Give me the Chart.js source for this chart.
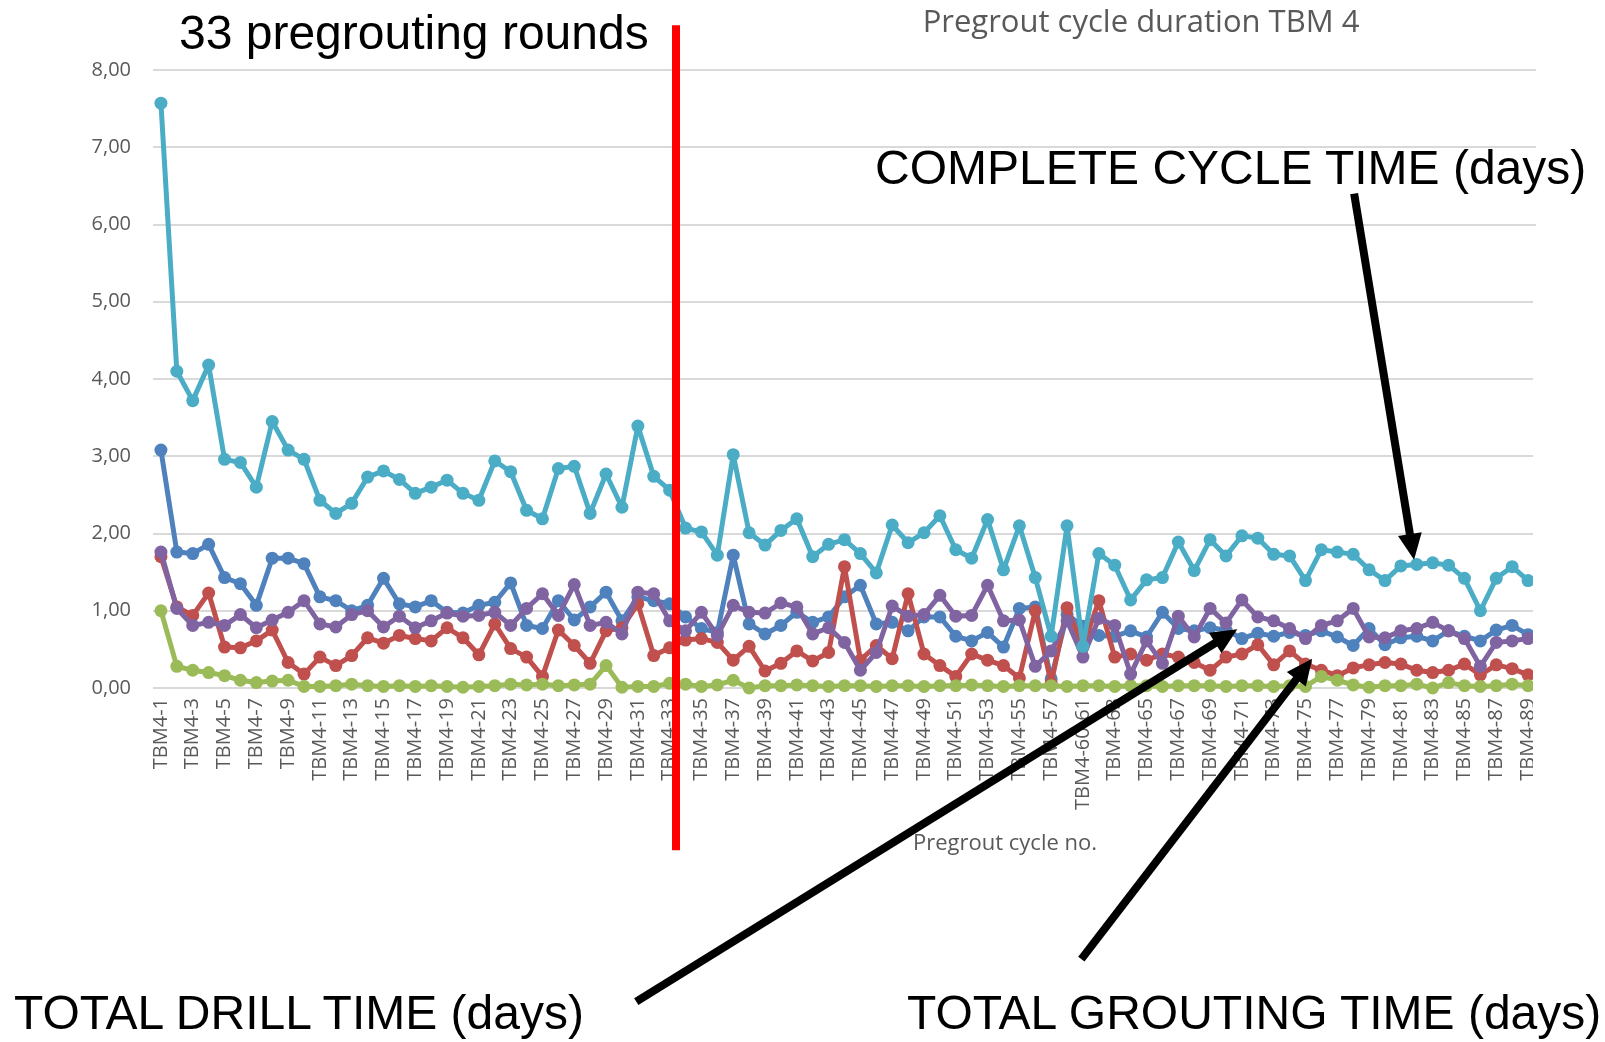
<!DOCTYPE html>
<html>
<head>
<meta charset="utf-8">
<title>Pregrout cycle duration TBM 4</title>
<script src="https://cdn.jsdelivr.net/npm/chart.js@4.4.1/dist/chart.umd.min.js"></script>
<style>
  body { margin: 0; background: #fff; }
  #quadro { position: relative; width: 1605px; height: 1042px; overflow: hidden; background: #fff; }
  #grafico { position: absolute; left: 0; top: 0; }
  .nota { position: absolute; font-family: "Liberation Sans", Arial, sans-serif; color: #000; white-space: nowrap; line-height: 1; font-size: 48px; }
  .cinza { position: absolute; font-family: "Open Sans", sans-serif; color: #595959; white-space: nowrap; line-height: 1; transform: translateX(-50%); }
</style>
</head>
<body>
<div id="quadro">
  <canvas id="grafico" width="1605" height="1042"></canvas>
  <div id="corte" style="position:absolute; left:1533px; top:300px; width:72px; height:530px; background:#fff;"></div>
  <div class="cinza" style="left:1141px; top:5px; font-size:31px;">Pregrout cycle duration TBM 4</div>
  <div class="cinza" style="left:1005px; top:830px; font-size:22px;">Pregrout cycle no.</div>
  <div class="nota" style="left:179px; top:9px;">33 pregrouting rounds</div>
  <div class="nota" style="left:875px; top:144px;">COMPLETE CYCLE TIME (days)</div>
  <div class="nota" style="left:14px; top:989px;">TOTAL DRILL TIME (days)</div>
  <div class="nota" style="left:907px; top:989px;">TOTAL GROUTING TIME (days)</div>
</div>
<script>
// categorias (TBM4-59 nao aparece, 60 e 61 juntos)
const ciclos = [
  'TBM4-1','TBM4-2','TBM4-3','TBM4-4','TBM4-5','TBM4-6','TBM4-7','TBM4-8','TBM4-9','TBM4-10',
  'TBM4-11','TBM4-12','TBM4-13','TBM4-14','TBM4-15','TBM4-16','TBM4-17','TBM4-18','TBM4-19','TBM4-20',
  'TBM4-21','TBM4-22','TBM4-23','TBM4-24','TBM4-25','TBM4-26','TBM4-27','TBM4-28','TBM4-29','TBM4-30',
  'TBM4-31','TBM4-32','TBM4-33','TBM4-34','TBM4-35','TBM4-36','TBM4-37','TBM4-38','TBM4-39','TBM4-40',
  'TBM4-41','TBM4-42','TBM4-43','TBM4-44','TBM4-45','TBM4-46','TBM4-47','TBM4-48','TBM4-49','TBM4-50',
  'TBM4-51','TBM4-52','TBM4-53','TBM4-54','TBM4-55','TBM4-56','TBM4-57','TBM4-58','TBM4-60-61','TBM4-62',
  'TBM4-63','TBM4-64','TBM4-65','TBM4-66','TBM4-67','TBM4-68','TBM4-69','TBM4-70','TBM4-71','TBM4-72',
  'TBM4-73','TBM4-74','TBM4-75','TBM4-76','TBM4-77','TBM4-78','TBM4-79','TBM4-80','TBM4-81','TBM4-82',
  'TBM4-83','TBM4-84','TBM4-85','TBM4-86','TBM4-87','TBM4-88','TBM4-89'
];

const cicloCompleto = [
  7.57, 4.10, 3.72, 4.18, 2.96, 2.92, 2.60, 3.45, 3.08, 2.96, 2.43,
  2.26, 2.39, 2.73, 2.81, 2.70, 2.52, 2.60, 2.69, 2.52, 2.43, 2.94,
  2.80, 2.30, 2.19, 2.84, 2.87, 2.26, 2.77, 2.34, 3.39, 2.74, 2.56,
  2.07, 2.02, 1.72, 3.02, 2.01, 1.85, 2.04, 2.19, 1.70, 1.86, 1.92,
  1.74, 1.49, 2.11, 1.88, 2.01, 2.23, 1.79, 1.68, 2.18, 1.53, 2.10,
  1.43, 0.67, 2.10, 0.54, 1.74, 1.59, 1.14, 1.40, 1.43, 1.89, 1.52,
  1.92, 1.71, 1.97, 1.94, 1.73, 1.71, 1.39, 1.79, 1.76, 1.73, 1.53,
  1.39, 1.58, 1.60, 1.62, 1.59, 1.42, 1.00, 1.42, 1.57, 1.39
];

const serieAzul = [
  3.08, 1.76, 1.74, 1.86, 1.43, 1.35, 1.07, 1.68, 1.68, 1.61, 1.18,
  1.13, 1.00, 1.07, 1.42, 1.09, 1.05, 1.13, 0.98, 0.97, 1.07, 1.11,
  1.36, 0.81, 0.77, 1.13, 0.88, 1.05, 1.24, 0.87, 1.18, 1.13, 1.09,
  0.92, 0.77, 0.72, 1.72, 0.83, 0.70, 0.81, 0.98, 0.85, 0.92, 1.18,
  1.33, 0.83, 0.85, 0.74, 0.92, 0.92, 0.67, 0.61, 0.72, 0.53, 1.03,
  1.05, 0.12, 0.95, 0.80, 0.68, 0.67, 0.74, 0.66, 0.98, 0.77, 0.74,
  0.78, 0.75, 0.64, 0.71, 0.67, 0.72, 0.68, 0.74, 0.66, 0.55, 0.77,
  0.56, 0.65, 0.67, 0.61, 0.74, 0.67, 0.61, 0.75, 0.81, 0.69
];

const tempoFuracao = [
  1.76, 1.03, 0.81, 0.85, 0.81, 0.95, 0.78, 0.88, 0.98, 1.13, 0.83,
  0.79, 0.95, 1.00, 0.79, 0.93, 0.78, 0.87, 0.97, 0.93, 0.94, 0.98,
  0.81, 1.03, 1.22, 0.94, 1.34, 0.81, 0.85, 0.70, 1.24, 1.22, 0.87,
  0.74, 0.98, 0.68, 1.07, 0.98, 0.97, 1.10, 1.05, 0.70, 0.78, 0.59,
  0.23, 0.46, 1.06, 0.93, 0.95, 1.20, 0.93, 0.94, 1.33, 0.87, 0.88,
  0.28, 0.48, 0.87, 0.40, 0.90, 0.81, 0.18, 0.61, 0.32, 0.93, 0.66,
  1.03, 0.84, 1.14, 0.92, 0.87, 0.77, 0.64, 0.81, 0.87, 1.03, 0.66,
  0.65, 0.74, 0.77, 0.85, 0.74, 0.64, 0.28, 0.59, 0.61, 0.64
];

const tempoInjecao = [
  1.70, 1.05, 0.94, 1.23, 0.53, 0.52, 0.61, 0.75, 0.33, 0.18, 0.40,
  0.29, 0.42, 0.65, 0.58, 0.68, 0.64, 0.61, 0.78, 0.65, 0.43, 0.83,
  0.51, 0.40, 0.15, 0.75, 0.55, 0.32, 0.74, 0.78, 1.09, 0.42, 0.52,
  0.62, 0.64, 0.59, 0.36, 0.54, 0.22, 0.32, 0.48, 0.35, 0.46, 1.57,
  0.36, 0.55, 0.38, 1.22, 0.44, 0.29, 0.15, 0.44, 0.36, 0.29, 0.13,
  1.00, 0.06, 1.04, 0.53, 1.13, 0.40, 0.44, 0.36, 0.44, 0.40, 0.33,
  0.23, 0.40, 0.44, 0.56, 0.30, 0.48, 0.31, 0.23, 0.16, 0.26, 0.30,
  0.33, 0.31, 0.23, 0.20, 0.23, 0.31, 0.17, 0.30, 0.25, 0.17
];

const serieVerde = [
  1.00, 0.28, 0.23, 0.20, 0.16, 0.10, 0.07, 0.09, 0.10, 0.02, 0.02,
  0.03, 0.05, 0.03, 0.02, 0.03, 0.02, 0.03, 0.02, 0.01, 0.02, 0.03,
  0.05, 0.04, 0.05, 0.03, 0.04, 0.05, 0.29, 0.01, 0.02, 0.02, 0.06,
  0.05, 0.02, 0.04, 0.10, 0.00, 0.03, 0.03, 0.04, 0.03, 0.02, 0.03,
  0.03, 0.02, 0.03, 0.03, 0.02, 0.03, 0.03, 0.04, 0.03, 0.02, 0.03,
  0.03, 0.03, 0.02, 0.03, 0.03, 0.02, 0.03, 0.03, 0.02, 0.03, 0.03,
  0.03, 0.02, 0.03, 0.03, 0.02, 0.03, 0.02, 0.15, 0.10, 0.04, 0.01,
  0.03, 0.03, 0.05, 0.00, 0.07, 0.03, 0.02, 0.03, 0.05, 0.03
];

// linha vermelha e setas, em (indice da categoria, valor do eixo y)
const linhaVermelha = { indice: 32.4, topo: 8.58, base: -2.1 };
const setas = [
  { de: [75.06, 6.40], para: [78.83, 1.66] },
  { de: [29.9, -4.06], para: [67.71, 0.76] },
  { de: [57.9, -3.51], para: [72.42, 0.38] }
];

function serie(nome, dados, cor) {
  return {
    label: nome,
    data: dados,
    borderColor: cor,
    backgroundColor: cor,
    borderWidth: 5,
    borderJoinStyle: 'round',
    borderCapStyle: 'round',
    pointRadius: 6.5,
    pointBorderWidth: 0,
    pointBackgroundColor: cor,
    tension: 0,
    clip: false
  };
}

const anotacoes = {
  id: 'anotacoes',
  afterDraw(chart) {
    const ctx = chart.ctx;
    const x = chart.scales.x;
    const y = chart.scales.y;
    ctx.save();

    const xl = x.getPixelForValue(linhaVermelha.indice);
    ctx.strokeStyle = '#ff0000';
    ctx.lineWidth = 8;
    ctx.beginPath();
    ctx.moveTo(xl, y.getPixelForValue(linhaVermelha.topo));
    ctx.lineTo(xl, y.getPixelForValue(linhaVermelha.base));
    ctx.stroke();

    setas.forEach(s => {
      const x1 = x.getPixelForValue(s.de[0]), y1 = y.getPixelForValue(s.de[1]);
      const x2 = x.getPixelForValue(s.para[0]), y2 = y.getPixelForValue(s.para[1]);
      const ang = Math.atan2(y2 - y1, x2 - x1);
      const c = 26, l = 12;
      ctx.strokeStyle = '#000';
      ctx.lineWidth = 8;
      ctx.beginPath();
      ctx.moveTo(x1, y1);
      ctx.lineTo(x2 - Math.cos(ang) * c * 0.8, y2 - Math.sin(ang) * c * 0.8);
      ctx.stroke();
      ctx.fillStyle = '#000';
      ctx.beginPath();
      ctx.moveTo(x2, y2);
      ctx.lineTo(x2 - c * Math.cos(ang) + l * Math.sin(ang), y2 - c * Math.sin(ang) - l * Math.cos(ang));
      ctx.lineTo(x2 - c * Math.cos(ang) - l * Math.sin(ang), y2 - c * Math.sin(ang) + l * Math.cos(ang));
      ctx.closePath();
      ctx.fill();
    });
    ctx.restore();
  }
};

const ctx = document.getElementById('grafico').getContext('2d');
new Chart(ctx, {
  type: 'line',
  data: {
    labels: ciclos,
    datasets: [
      serie('Complete cycle time (days)', cicloCompleto, '#4bacc6'),
      serie('Total drill time (days)', tempoFuracao, '#8064a2'),
      serie('Series 3', serieVerde, '#9bbb59'),
      serie('Total grouting time (days)', tempoInjecao, '#c0504d'),
      serie('Series 1', serieAzul, '#4f81bd')
    ]
  },
  options: {
    responsive: false,
    animation: false,
    layout: { padding: { top: 70, right: 69, bottom: 0, left: 0 } },
    plugins: {
      legend: { display: false },
      tooltip: { enabled: false }
    },
    scales: {
      x: {
        offset: true,
        grid: { display: false, drawTicks: false },
        border: { display: false },
        ticks: {
          autoSkip: false,
          minRotation: 90,
          maxRotation: 90,
          padding: 10,
          color: '#595959',
          font: { family: 'Open Sans', size: 20 },
          callback: function (v, i) { return i % 2 === 0 ? ciclos[i] : ''; }
        },
        afterFit: function (scale) { scale.height = 354; }
      },
      y: {
        min: 0,
        max: 8,
        grid: { color: '#d9d9d9', lineWidth: 2, drawTicks: false },
        border: { display: false },
        ticks: {
          stepSize: 1,
          padding: 22,
          color: '#595959',
          font: { family: 'Open Sans', size: 20 },
          callback: function (v) { return v.toFixed(2).replace('.', ','); }
        },
        afterFit: function (scale) { scale.width = 153; }
      }
    }
  },
  plugins: [anotacoes]
});
</script>
</body>
</html>
